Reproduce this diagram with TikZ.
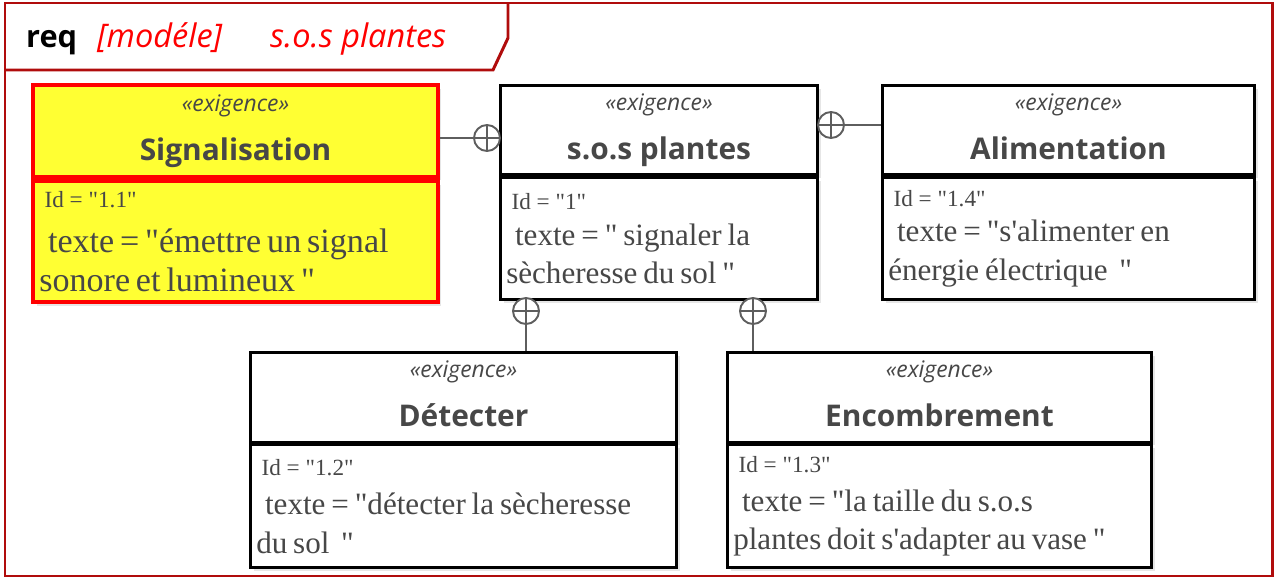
\documentclass[tikz,border=0pt]{standalone}
\usepackage{fontspec}
\setmainfont{Liberation Serif}
\newfontfamily\uifont{Open Sans}
\newfontfamily\txtfont{Liberation Serif}
\usetikzlibrary{positioning,shadows}
\definecolor{cadre}{HTML}{B00C0C}
\definecolor{encre}{HTML}{474747}
\definecolor{jaune}{HTML}{FFFF33}
\definecolor{lien}{HTML}{5E5E5E}
\newcommand\stereo{{\uifont\itshape\fontsize{13}{15}\selectfont «exigence»}}
\newcommand\nom[1]{{\uifont\bfseries\fontsize{17}{20}\selectfont\vphantom{Égp}#1}}
% #1 = Id, #2 = corps du texte, #3 = saut avant le texte
\newcommand\ident[3]{\txtfont\fontsize{13.2}{15}\selectfont\hspace*{3pt}Id = "#1"\par\vspace{#3}%
  \fontsize{#2}{22}\selectfont\hspace*{5pt}}

\begin{document}
\begin{tikzpicture}[
  x=0.02cm, y=-0.02cm,
  tete/.style={draw, line width=1.7pt, fill=white, align=center, text=encre,
    drop shadow={opacity=0.2, shadow xshift=0.07cm, shadow yshift=-0.07cm}},
  corps/.style={draw, line width=1.7pt, fill=white, align=left, text=encre,
    inner xsep=3.5pt,
    drop shadow={opacity=0.2, shadow xshift=0.07cm, shadow yshift=-0.07cm}},
  rouge/.style={draw=red, fill=jaune, line width=2.3pt},
  plus/.style={circle, draw=lien, line width=1.1pt, minimum size=0.52cm, inner sep=0pt,
    fill=white, path picture={
      \draw[lien, line width=1.1pt]
        (path picture bounding box.north) -- (path picture bounding box.south)
        (path picture bounding box.west) -- (path picture bounding box.east);}},
  trait/.style={draw=lien, line width=1.1pt},
]
  \useasboundingbox (0,0) rectangle (1275,578);

  % Cadre du diagramme
  \draw[cadre, line width=1.7pt] (5,3) rectangle (1272,576);
  \draw[cadre, line width=1.7pt] (5,70) -- (493,70) -- (508,38) -- (508,3);
  \node[anchor=base west, font=\uifont\bfseries\fontsize{17.5}{20}\selectfont] (req) at (20,48) {req};
  \node[anchor=base west, text=red, font=\uifont\itshape\fontsize{18.5}{20}\selectfont] (modele) at (91,48) {[modéle]};
  \node[anchor=base west, text=red, font=\uifont\itshape\fontsize{18.5}{20}\selectfont] (titre) at (264,48) {s.o.s plantes};

  % Exigences du haut
  \node[tete, rouge, minimum width=8.1cm, minimum height=1.84cm] (sig) at (235.5,131)
    {\stereo\\[8pt]\nom{Signalisation}};
  \node[corps, rouge, below=0pt of sig, minimum height=2.42cm, text width=7.85cm] (sigT)
    {\ident{1.1}{19.4}{3.4pt}texte = "émettre un signal\\sonore et lumineux "\par};

  \node[tete, minimum width=6.36cm, minimum height=1.8cm] (sos) at (659,130)
    {\stereo\\[8pt]\nom{s.o.s plantes}};
  \node[corps, below=0pt of sos, minimum height=2.44cm, text width=6.11cm] (sosT)
    {\ident{1}{17.7}{-2pt}texte = " signaler la\\sècheresse du sol "\par};

  \node[tete, minimum width=7.46cm, minimum height=1.8cm] (alim) at (1068.5,130)
    {\stereo\\[8pt]\nom{Alimentation}};
  \node[corps, below=0pt of alim, minimum height=2.44cm, text width=7.21cm] (alimT)
    {\ident{1.4}{17.7}{-2pt}texte = "s'alimenter en\\énergie électrique\ \ "\par};

  % Exigences du bas
  \node[tete, minimum width=8.54cm, minimum height=1.8cm] (det) at (463.5,397)
    {\stereo\\[8pt]\nom{Détecter}};
  \node[corps, below=0pt of det, minimum height=2.46cm, text width=8.29cm] (detT)
    {\ident{1.2}{17.7}{0pt}texte = "détecter la sècheresse\\du sol\ \ "\par};

  \node[tete, minimum width=8.5cm, minimum height=1.8cm] (enc) at (939.5,397)
    {\stereo\\[8pt]\nom{Encombrement}};
  \node[corps, below=0pt of enc, minimum height=2.46cm, text width=8.25cm] (encT)
    {\ident{1.3}{17.7}{0pt}texte = "la taille du s.o.s\\plantes doit s'adapter au vase "\par};

  % Liens de contenance
  \node[plus] (c1) at (487,138) {};
  \node[plus] (c2) at (831,125) {};
  \node[plus] (c3) at (526,311) {};
  \node[plus] (c4) at (753,311) {};
  \draw[trait] (c1 -| sig.east) -- (c1.west);
  \draw[trait] (c2.east) -- (c2 -| alim.west);
  \draw[trait] (c3.south) -- (c3 |- det.north);
  \draw[trait] (c4.south) -- (c4 |- enc.north);

\end{tikzpicture}
\end{document}
